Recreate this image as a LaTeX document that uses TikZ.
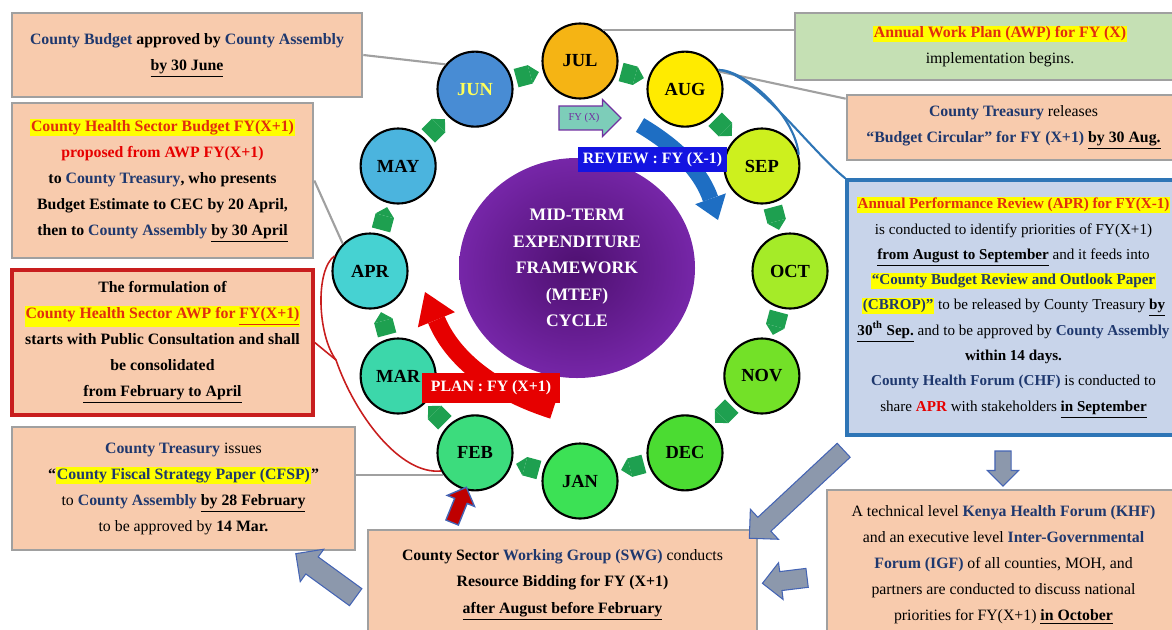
\documentclass[tikz,border=0pt]{standalone}
\usepackage{fontspec}
\setmainfont{Liberation Serif}
\usetikzlibrary{shapes.geometric,shapes.arrows,arrows.meta}

\definecolor{peach}{RGB}{248,203,173}
\definecolor{leaf}{RGB}{197,224,180}
\definecolor{aprfill}{RGB}{200,212,234}
\definecolor{aprborder}{RGB}{46,117,182}
\definecolor{boxgray}{RGB}{160,160,160}
\definecolor{navyblue}{RGB}{31,56,110}
\definecolor{hired}{RGB}{225,45,15}
\definecolor{hlyellow}{RGB}{255,255,0}
\definecolor{redline}{RGB}{200,30,30}
\definecolor{planred}{RGB}{230,0,0}
\definecolor{reviewblue}{RGB}{20,20,225}
\definecolor{revarrow}{RGB}{30,110,195}
\definecolor{stepgreen}{RGB}{30,160,80}
\definecolor{arrowgray}{RGB}{140,152,172}
\definecolor{arrowblue}{RGB}{68,100,180}
\definecolor{fyteal}{RGB}{125,205,185}
\definecolor{fypurple}{RGB}{112,48,160}
\definecolor{mtefin}{RGB}{78,16,112}
\definecolor{mtefout}{RGB}{118,38,168}
\definecolor{mJUL}{RGB}{245,180,20}
\definecolor{mAUG}{RGB}{255,235,0}
\definecolor{mSEP}{RGB}{205,240,30}
\definecolor{mOCT}{RGB}{165,235,40}
\definecolor{mNOV}{RGB}{115,225,40}
\definecolor{mDEC}{RGB}{75,220,50}
\definecolor{mJAN}{RGB}{60,225,85}
\definecolor{mFEB}{RGB}{60,220,125}
\definecolor{mMAR}{RGB}{60,215,170}
\definecolor{mAPR}{RGB}{70,210,210}
\definecolor{mMAY}{RGB}{75,180,222}
\definecolor{mJUN}{RGB}{72,140,212}
\definecolor{junyellow}{RGB}{255,255,90}

\newcommand{\hilite}[1]{{\setlength{\fboxsep}{0.6pt}\colorbox{hlyellow}{#1}}}
\newcommand{\undl}[1]{\underline{#1}}
\newcommand{\navy}[1]{\textcolor{navyblue}{#1}}

\begin{document}
\begin{tikzpicture}[
    month/.style={circle, draw=black, line width=1.2pt, minimum size=1.5cm, inner sep=0pt,
      font=\bfseries\fontsize{10.5}{12}\selectfont},
    monthstep/.style={draw=stepgreen, line width=0.38cm, shorten <=0.08cm, shorten >=0.08cm,
      -{Triangle[length=0.18cm, width=0.38cm, line width=0pt]}},
    infobox/.style={draw=boxgray, line width=1.5pt, fill=peach, align=center, inner sep=2pt,
      font=\fontsize{9}{14.8}\selectfont},
    boldbox/.style={infobox, font=\bfseries\fontsize{9}{14.8}\selectfont},
    link/.style={draw=boxgray, line width=1.2pt},
    redlink/.style={draw=redline, line width=0.9pt},
    bluelink/.style={draw=aprborder, line width=1.2pt},
    bigarrow/.style={single arrow, draw=arrowblue, line width=0.6pt, fill=arrowgray, inner xsep=0pt},
    tag/.style={font=\bfseries\fontsize{9}{10}\selectfont, text=white, inner sep=1pt}
  ]
  \useasboundingbox (0,0) rectangle (23.44,-12.58);

  % month ring
  \coordinate (ring) at (11.6,-5.42);
  \foreach \m/\a/\t in {JUL/90/black, AUG/60/black, SEP/30/black, OCT/0/black,
      NOV/-30/black, DEC/-60/black, JAN/-90/black, FEB/-120/black,
      MAR/-150/black, APR/180/black, MAY/150/black, JUN/120/junyellow}
    \node[month, fill=m\m, text=\t] (\m) at ([shift={(\a:4.2)}]ring) {\m};
  \foreach \p/\q in {JUL/AUG, AUG/SEP, SEP/OCT, OCT/NOV, NOV/DEC, DEC/JAN,
      JAN/FEB, FEB/MAR, MAR/APR, APR/MAY, MAY/JUN, JUN/JUL}
    \draw[monthstep] (\p) -- (\q);

  % centre
  \node[ellipse, minimum width=4.72cm, minimum height=4.4cm, inner color=mtefin, outer color=mtefout,
    align=center, text=white, font=\bfseries\fontsize{10}{15}\selectfont] (mtef) at (11.54,-5.36)
    {MID-TERM\\EXPENDITURE\\FRAMEWORK\\(MTEF)\\CYCLE};

  \node[single arrow, draw=fypurple, line width=0.8pt, fill=fyteal, minimum height=1.24cm,
    single arrow head extend=0.13cm, inner xsep=1pt, inner ysep=0.13cm,
    text=fypurple, font=\fontsize{6}{7}\selectfont] (fyx) at (11.68,-2.36) {FY (X)};

  \coordinate (revtail) at (12.8,-2.5);
  \coordinate (revtip) at (14.36,-4.4);
  \draw[draw=revarrow, line width=0.32cm, -{Triangle[length=0.45cm, width=0.65cm, line width=0pt]}]
    (revtail) to[bend left=20] (revtip);
  \node[tag, fill=reviewblue, minimum width=2.98cm, minimum height=0.5cm] (review) at (13.05,-3.19)
    {REVIEW : FY (X-1)};

  \coordinate (plantail) at (11.06,-8.2);
  \coordinate (plantip) at (8.5,-5.84);
  \draw[draw=planred, line width=0.36cm, -{Triangle[length=0.6cm, width=0.8cm, line width=0pt]}]
    (plantail) to[bend left=25] (plantip);
  \node[tag, fill=planred, minimum width=2.76cm, minimum height=0.6cm] (plan) at (9.82,-7.76)
    {PLAN : FY (X+1)};

  % boxes on the left
  \node[boldbox, minimum width=7cm, minimum height=1.68cm] (budget) at (3.74,-1.1)
    {\navy{County Budget} approved by \navy{County Assembly}\\ \undl{by 30 June}};
  \node[boldbox, minimum width=6.02cm, minimum height=3.1cm] (hsbudget) at (3.25,-3.61)
    {\hilite{\textcolor{hired}{County Health Sector Budget FY(X+1)}}\\
     \textcolor{planred}{proposed from AWP FY(X+1)}\\
     to \navy{County Treasury}, who presents\\
     Budget Estimate to CEC by 20 April,\\
     then to \navy{County Assembly} \undl{by 30 April}};
  \node[boldbox, draw=redline, line width=2pt, minimum width=6.02cm, minimum height=2.9cm] (awpform)
    at (3.25,-6.85)
    {The formulation of\\
     \hilite{\textcolor{hired}{County Health Sector AWP for \undl{FY(X+1)}}}\\
     starts with Public Consultation and shall\\
     be consolidated\\
     \undl{from February to April}};
  \node[infobox, minimum width=6.86cm, minimum height=2.46cm] (cfsp) at (3.67,-9.77)
    {\textbf{\navy{County Treasury}} issues\\
     \textbf{``\hilite{\navy{County Fiscal Strategy Paper (CFSP)}}''}\\
     to \textbf{\navy{County Assembly} \undl{by 28 February}}\\
     to be approved by \textbf{14 Mar.}};
  \node[infobox, minimum width=7.78cm, minimum height=2.2cm] (swg) at (11.25,-11.7)
    {\textbf{County Sector \navy{Working Group (SWG)}} conducts\\
     \textbf{Resource Bidding for FY (X+1)}\\
     \textbf{\undl{after August before February}}};

  % boxes on the right
  \node[infobox, fill=leaf, minimum width=8.2cm, minimum height=1.34cm] (awp) at (20.0,-0.93)
    {\hilite{\textbf{\textcolor{hired}{Annual Work Plan (AWP) for FY (X)}}}\\
     implementation begins.};
  \node[infobox, minimum width=6.66cm, minimum height=1.3cm] (circular) at (20.27,-2.55)
    {\textbf{\navy{County Treasury}} releases\\
     \textbf{\navy{``Budget Circular'' for FY (X+1)} \undl{by 30 Aug.}}};
  \node[infobox, fill=aprfill, draw=aprborder, line width=2pt, minimum width=6.66cm, minimum height=5.1cm,
    font=\fontsize{8.6}{14.4}\selectfont] (apr) at (20.27,-6.15)
    {\hilite{\textbf{\textcolor{hired}{Annual Performance Review (APR) for FY(X-1)}}}\\
     is conducted to identify priorities of FY(X+1)\\
     \textbf{\undl{from August to September}} and it feeds into\\
     \hilite{\textbf{\navy{``County Budget Review and Outlook Paper}}}\\
     \hilite{\textbf{\navy{(CBROP)''}}} to be released by County Treasury \textbf{\undl{by}}\\
     \textbf{\undl{30\textsuperscript{th} Sep.}} and to be approved by \textbf{\navy{County Assembly}}\\
     \textbf{within 14 days.}\\
     \textbf{\navy{County Health Forum (CHF)}} is conducted to\\
     share \textbf{\textcolor{planred}{APR}} with stakeholders \textbf{\undl{in September}}};
  \node[infobox, minimum width=7.06cm, minimum height=3cm] (khf) at (20.07,-11.3)
    {A technical level \textbf{\navy{Kenya Health Forum (KHF)}}\\
     and an executive level \textbf{\navy{Inter-Governmental}}\\
     \textbf{\navy{Forum (IGF)}} of all counties, MOH, and\\
     partners are conducted to discuss national\\
     priorities for FY(X+1) \textbf{\undl{in October}}};

  % block arrows
  \node[bigarrow, rotate=223, minimum height=2.58cm, inner ysep=0.18cm,
    single arrow head extend=0.22cm] (toswg) at (16.0,-9.82) {};
  \node[bigarrow, rotate=-90, minimum height=0.7cm, inner ysep=0.15cm,
    single arrow head extend=0.15cm] (tokhf) at (20.06,-9.29) {};
  \node[bigarrow, rotate=187, minimum height=0.9cm, inner ysep=0.18cm,
    single arrow head extend=0.18cm] (fromkhf) at (15.79,-11.6) {};
  \node[bigarrow, rotate=144, minimum height=1.48cm, inner ysep=0.2cm,
    single arrow head extend=0.19cm] (tocfsp) at (6.6,-11.57) {};
  \node[single arrow, draw=arrowblue, line width=0.8pt, fill=red!75!black, inner xsep=0pt, inner ysep=0.12cm,
    rotate=68, minimum height=0.76cm, single arrow head extend=0.16cm] (tofeb) at (9.16,-10.16) {};

  % connectors
  \draw[link] (budget.east) -- (JUN.140);
  \draw[link] (JUL.54) -- (JUL.54 -| awp.west);
  \draw[link] (AUG.27) -- ([yshift=-0.1cm]circular.north west);
  \draw[bluelink] (AUG.30) .. controls (14.9,-1.4) and (15.9,-2.3) .. (SEP.17);
  \draw[bluelink] (AUG.30) .. controls (15.1,-1.45) and (16.2,-3.0) .. (apr.north west);
  \draw[link] (hsbudget.east) -- (APR.135);
  \coordinate (brace) at (6.72,-7.2);
  \draw[redlink] (APR.157) .. controls (6.3,-5.4) and (6.35,-6.7) .. (brace)
    .. controls (7.1,-8.3) and (8.0,-9.5) .. (FEB.208);
  \draw[redlink] (awpform.east) -- (brace);
  \draw[link] (cfsp.east |- FEB.215) -- (FEB.215);
\end{tikzpicture}
\end{document}
